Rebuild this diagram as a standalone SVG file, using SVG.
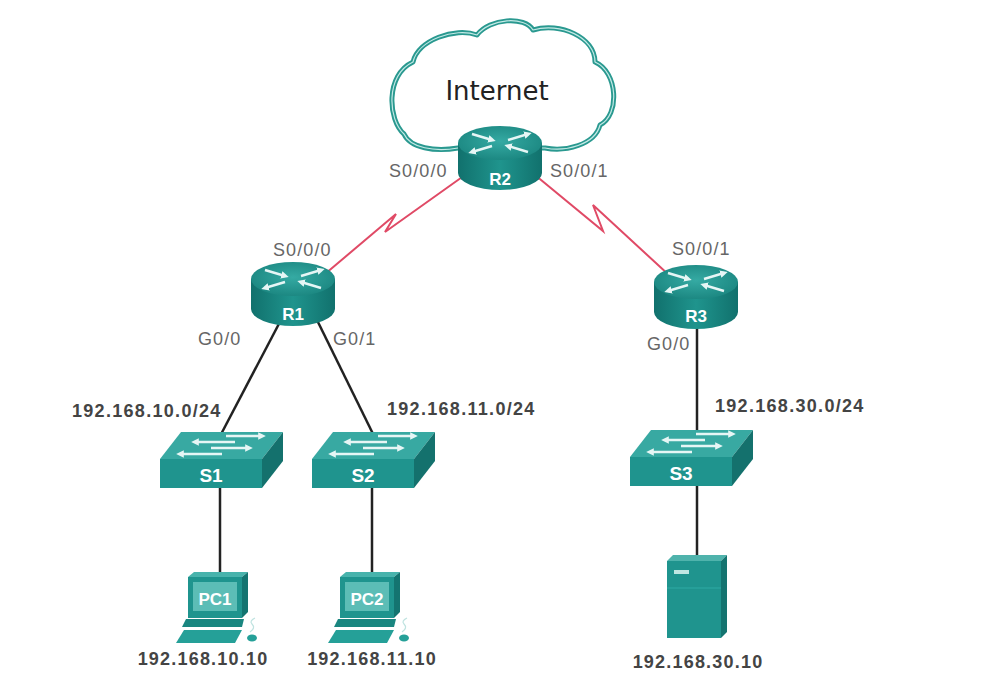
<svg xmlns="http://www.w3.org/2000/svg" xmlns:xlink="http://www.w3.org/1999/xlink" width="1004" height="692" viewBox="0 0 1004 692">
<style>
.lbl{font-family:"Liberation Sans",Arial,sans-serif;font-size:18px;fill:#666;letter-spacing:1.1px}
.net{font-family:"Liberation Sans",Arial,sans-serif;font-size:18px;font-weight:bold;fill:#444;letter-spacing:1.3px}
.ip{font-family:"Liberation Sans",Arial,sans-serif;font-size:18px;font-weight:bold;fill:#444;letter-spacing:1.2px;text-anchor:middle}
.dev{font-family:"Liberation Sans",Arial,sans-serif;font-weight:bold;fill:#fff;text-anchor:middle}
.eth{fill:none;stroke:#222;stroke-width:2.5}
.ser{fill:none;stroke:#e04a66;stroke-width:2;stroke-linejoin:miter}
.arw{fill:none;stroke:#e6f6f5;stroke-width:2.4;marker-end:url(#wh)}
</style>
<defs>
<marker id="wh" viewBox="0 0 10 10" refX="5" refY="5" markerWidth="3.2" markerHeight="3.2" orient="auto">
<path d="M0,0 L10,5 L0,10 z" fill="#e6f6f5"/>
</marker>
<radialGradient id="rTop" cx="0.5" cy="0.45" r="0.6">
<stop offset="0" stop-color="#35aaa3"/>
<stop offset="1" stop-color="#1a857f"/>
</radialGradient>
<linearGradient id="rBody" x1="0" y1="0" x2="1" y2="0">
<stop offset="0" stop-color="#11716d"/>
<stop offset="0.5" stop-color="#1f948d"/>
<stop offset="1" stop-color="#11716d"/>
</linearGradient>
<path id="cloudPath" d="M458,148 C435,152 410,148 404,134 C388,120 385,75 413,62 C418,40 455,27 477,35 C490,18 525,16 533,30 C560,22 595,37 595,62 C618,72 620,115 600,125 C595,145 565,152 545,148 Z"/>
<g id="router">
<path d="M-42,0 V30 A42,17 0 0 0 42,30 V0 Z" fill="url(#rBody)"/>
<ellipse cx="0" cy="0" rx="42" ry="17" fill="url(#rTop)"/>
<path class="arw" d="M-28,-9 L-8,-3"/>
<path class="arw" d="M8,-3 L28,-9"/>
<path class="arw" d="M-8,3 L-28,9"/>
<path class="arw" d="M28,9 L8,3"/>
</g>
<g id="switch">
<polygon points="0,0 21,-27 123,-27 102,0" fill="#38a9a2"/>
<rect x="0" y="0" width="102" height="29" fill="#1f948e"/>
<polygon points="102,0 123,-27 123,2 102,29" fill="#14716d"/>
<path class="arw" d="M66,-23 L102,-23"/>
<path class="arw" d="M75,-17 L35,-17"/>
<path class="arw" d="M51,-11 L89,-11"/>
<path class="arw" d="M62,-5 L20,-5"/>
</g>
<g id="pc">
<polygon points="0,5 6,0 60,0 54,5" fill="#48b3ac"/>
<rect x="0" y="5" width="54" height="41" fill="#1f948e"/>
<polygon points="54,5 60,0 60,40 54,46" fill="#147470"/>
<rect x="5" y="10" width="44" height="29" fill="#5cbdb6"/>
<polygon points="-2,47 56,47 54,55 -6,55" fill="#1a8680"/>
<polygon points="-4,58 54,58 47,71 -12,71" fill="#25a098"/>
<path d="M62,60 q6,-4 2,-8 q-3,-3 3,-6" fill="none" stroke="#bfe3e0" stroke-width="1.2"/>
<ellipse cx="64" cy="66" rx="5" ry="3.5" fill="#25a098"/>
</g>
</defs>
<rect width="1004" height="692" fill="#fff"/>

<g id="connectors">
<path class="ser" d="M325,274 L396,214 L385,232 L465,175"/>
<path class="ser" d="M535,175 L603,231 L593,205 L670,276"/>
<path class="eth" d="M282,318 L218,440"/>
<path class="eth" d="M316,318 L376,440"/>
<path class="eth" d="M220,480 V580"/>
<path class="eth" d="M372,480 V580"/>
<path class="eth" d="M697,320 V440"/>
<path class="eth" d="M697,480 V560"/>
</g>

<g id="internet">
<use xlink:href="#cloudPath" href="#cloudPath" fill="#fff" stroke="#2a9990" stroke-width="5" stroke-linejoin="round"/>
<use xlink:href="#cloudPath" href="#cloudPath" fill="none" stroke="#c4eae6" stroke-width="1.2" stroke-linejoin="round"/>
<text x="497" y="100" font-family="DejaVu Sans, sans-serif" font-size="26" fill="#222" text-anchor="middle">Internet</text>
</g>

<g id="R2">
<use xlink:href="#router" href="#router" transform="translate(500,143)"/>
<text class="dev" x="500" y="185" font-size="17">R2</text>
</g>
<g id="R1">
<use xlink:href="#router" href="#router" transform="translate(293,279)"/>
<text class="dev" x="293" y="320" font-size="17">R1</text>
</g>
<g id="R3">
<use xlink:href="#router" href="#router" transform="translate(696,282)"/>
<text class="dev" x="696" y="322" font-size="17">R3</text>
</g>

<g id="S1">
<use xlink:href="#switch" href="#switch" transform="translate(160,459)"/>
<text class="dev" x="211" y="482" font-size="19">S1</text>
</g>
<g id="S2">
<use xlink:href="#switch" href="#switch" transform="translate(312,459)"/>
<text class="dev" x="363" y="482" font-size="19">S2</text>
</g>
<g id="S3">
<use xlink:href="#switch" href="#switch" transform="translate(630,457)"/>
<text class="dev" x="681" y="480" font-size="19">S3</text>
</g>

<g id="PC1">
<use xlink:href="#pc" href="#pc" transform="translate(188,572)"/>
<text class="dev" x="215" y="605" font-size="17">PC1</text>
</g>
<g id="PC2">
<use xlink:href="#pc" href="#pc" transform="translate(340,572)"/>
<text class="dev" x="367" y="605" font-size="17">PC2</text>
</g>

<g id="Server">
<polygon points="667,561 673,555 727,555 721,561" fill="#4fb3ac"/>
<rect x="667" y="561" width="54" height="77" fill="#1f948e"/>
<polygon points="721,561 727,555 727,632 721,638" fill="#147470"/>
<rect x="674" y="570" width="15" height="4" fill="#bfe6e2"/>
<line x1="667" y1="588" x2="721" y2="588" stroke="#2aa39c" stroke-width="1.5"/>
</g>

<g id="labels">
<text class="lbl" x="389" y="177">S0/0/0</text>
<text class="lbl" x="550" y="177">S0/0/1</text>
<text class="lbl" x="273" y="256">S0/0/0</text>
<text class="lbl" x="198" y="345">G0/0</text>
<text class="lbl" x="333" y="345">G0/1</text>
<text class="lbl" x="672" y="255">S0/0/1</text>
<text class="lbl" x="647" y="350">G0/0</text>
<text class="net" x="72" y="417">192.168.10.0/24</text>
<text class="net" x="387" y="415">192.168.11.0/24</text>
<text class="net" x="715" y="412">192.168.30.0/24</text>
<text class="ip" x="203" y="665">192.168.10.10</text>
<text class="ip" x="372" y="665">192.168.11.10</text>
<text class="ip" x="698" y="668">192.168.30.10</text>
</g>
</svg>
